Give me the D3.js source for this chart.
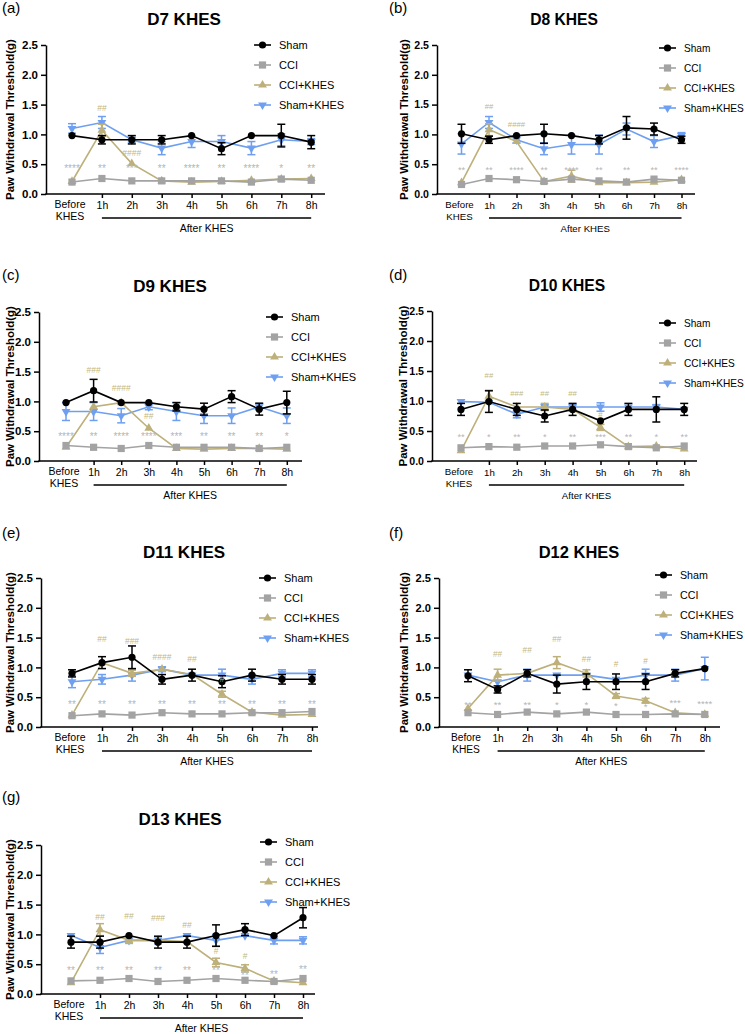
<!DOCTYPE html>
<meta charset="utf-8">
<html>
<head>
<script src="https://cdn.jsdelivr.net/npm/d3@7"></script>
<style>
  body { margin: 0; background: #fff; }
  svg { font-family: "Liberation Sans", Arial, sans-serif; }
  .ytick text { font-weight: bold; }
</style>
</head>
<body>
<div id="chart"></div>
<script>
// categories on the x axis
var categories = ["Before KHES", "1h", "2h", "3h", "4h", "5h", "6h", "7h", "8h"];
var yTicks = [0, 0.5, 1.0, 1.5, 2.0, 2.5];
var groups = ["Sham", "CCI", "CCI+KHES", "Sham+KHES"];

// D7
var d7_sham = [0.98, 0.91, 0.91, 0.91, 0.98, 0.76, 0.98, 0.98, 0.87];
var d7_shamE = [0.02, 0.07, 0.07, 0.07, 0.02, 0.10, 0.02, 0.19, 0.11];
var d7_cci = [0.20, 0.26, 0.22, 0.22, 0.22, 0.22, 0.20, 0.25, 0.23];
var d7_ck = [0.21, 1.07, 0.51, 0.22, 0.20, 0.21, 0.23, 0.25, 0.26];
var d7_ckE = [0.02, 0.10, 0.03, 0.02, 0.02, 0.02, 0.02, 0.02, 0.02];
var d7_sk = [1.10, 1.20, 0.91, 0.77, 0.88, 0.88, 0.77, 0.91, 0.88];
var d7_skE = [0.08, 0.10, 0.04, 0.11, 0.10, 0.10, 0.11, 0.10, 0.05];
var d7_stars = ["****", "**", "***", "**", "****", "**", "****", "*", "**"];
var d7_starY = [0.43, 0.43, 0.43, 0.43, 0.43, 0.43, 0.43, 0.43, 0.43];
var d7_hash = ["", "##", "####", "", "", "", "", "", ""];
var d7_hashY = [0, 1.45, 0.69, 0, 0, 0, 0, 0, 0];

// D8
var d8_sham = [1.01, 0.91, 0.98, 1.01, 0.98, 0.91, 1.11, 1.09, 0.91];
var d8_shamE = [0.16, 0.06, 0.02, 0.16, 0.02, 0.07, 0.19, 0.10, 0.06];
var d8_cci = [0.16, 0.26, 0.24, 0.21, 0.25, 0.22, 0.20, 0.25, 0.23];
var d8_ck = [0.19, 1.08, 0.88, 0.21, 0.30, 0.19, 0.19, 0.20, 0.24];
var d8_ckE = [0.02, 0.10, 0.03, 0.02, 0.10, 0.02, 0.02, 0.02, 0.02];
var d8_sk = [0.84, 1.20, 0.91, 0.76, 0.83, 0.83, 1.09, 0.88, 0.98];
var d8_skE = [0.17, 0.10, 0.05, 0.10, 0.16, 0.16, 0.10, 0.10, 0.05];
var d8_stars = ["**", "**", "****", "**", "****", "**", "**", "**", "****"];
var d8_starY = [0.42, 0.42, 0.42, 0.42, 0.42, 0.42, 0.42, 0.42, 0.42];
var d8_hash = ["", "##", "####", "", "", "", "", "", ""];
var d8_hashY = [0, 1.48, 1.17, 0, 0, 0, 0, 0, 0];

// D9
var d9_sham = [0.98, 1.18, 0.98, 0.98, 0.91, 0.87, 1.08, 0.87, 0.98];
var d9_shamE = [0.02, 0.19, 0.02, 0.02, 0.07, 0.10, 0.10, 0.10, 0.19];
var d9_cci = [0.26, 0.23, 0.21, 0.26, 0.23, 0.23, 0.23, 0.21, 0.23];
var d9_ck = [0.23, 0.91, 0.98, 0.55, 0.21, 0.20, 0.21, 0.21, 0.20];
var d9_ckE = [0.02, 0.03, 0.03, 0.03, 0.02, 0.02, 0.02, 0.02, 0.02];
var d9_sk = [0.83, 0.83, 0.76, 0.91, 0.83, 0.76, 0.76, 0.91, 0.76];
var d9_skE = [0.15, 0.15, 0.12, 0.05, 0.15, 0.13, 0.13, 0.05, 0.13];
var d9_stars = ["****", "**", "****", "****", "***", "**", "**", "**", "*"];
var d9_starY = [0.42, 0.42, 0.42, 0.42, 0.42, 0.42, 0.42, 0.42, 0.42];
var d9_hash = ["", "###", "####", "##", "", "", "", "", ""];
var d9_hashY = [0, 1.53, 1.23, 0.75, 0, 0, 0, 0, 0];

// D10
var d10_sham = [0.86, 0.99, 0.86, 0.75, 0.86, 0.67, 0.86, 0.86, 0.86];
var d10_shamE = [0.10, 0.18, 0.10, 0.10, 0.10, 0.03, 0.10, 0.21, 0.10];
var d10_cci = [0.22, 0.24, 0.23, 0.25, 0.25, 0.27, 0.24, 0.22, 0.25];
var d10_ck = [0.17, 1.08, 0.90, 0.90, 0.86, 0.56, 0.24, 0.25, 0.20];
var d10_ckE = [0.02, 0.10, 0.03, 0.06, 0.03, 0.05, 0.02, 0.02, 0.02];
var d10_sk = [0.99, 0.98, 0.78, 0.90, 0.90, 0.90, 0.90, 0.90, 0.86];
var d10_skE = [0.03, 0.03, 0.06, 0.04, 0.04, 0.07, 0.03, 0.04, 0.03];
var d10_stars = ["**", "*", "**", "*", "**", "***", "**", "*", "**"];
var d10_starY = [0.42, 0.42, 0.42, 0.42, 0.42, 0.42, 0.42, 0.42, 0.42];
var d10_hash = ["", "##", "###", "##", "##", "#", "", "", ""];
var d10_hashY = [0, 1.43, 1.14, 1.14, 1.14, 0.78, 0, 0, 0];

// D11
var d11_sham = [0.90, 1.08, 1.17, 0.80, 0.87, 0.76, 0.87, 0.80, 0.80];
var d11_shamE = [0.06, 0.10, 0.19, 0.08, 0.10, 0.10, 0.10, 0.08, 0.08];
var d11_cci = [0.19, 0.22, 0.20, 0.24, 0.22, 0.22, 0.24, 0.24, 0.26];
var d11_ck = [0.20, 1.08, 0.90, 0.97, 0.88, 0.55, 0.25, 0.20, 0.21];
var d11_ckE = [0.02, 0.03, 0.05, 0.03, 0.03, 0.05, 0.02, 0.02, 0.02];
var d11_sk = [0.76, 0.80, 0.87, 0.97, 0.87, 0.87, 0.80, 0.90, 0.90];
var d11_skE = [0.10, 0.08, 0.10, 0.04, 0.03, 0.10, 0.08, 0.06, 0.06];
var d11_stars = ["**", "**", "**", "**", "**", "**", "**", "**", "**"];
var d11_starY = [0.39, 0.39, 0.39, 0.39, 0.39, 0.39, 0.39, 0.39, 0.39];
var d11_hash = ["", "##", "###", "####", "##", "#", "", "", ""];
var d11_hashY = [0, 1.47, 1.44, 1.18, 1.14, 0.80, 0, 0, 0];

// D12
var d12_sham = [0.86, 0.63, 0.90, 0.72, 0.76, 0.76, 0.76, 0.90, 0.98];
var d12_shamE = [0.10, 0.06, 0.06, 0.15, 0.13, 0.13, 0.13, 0.06, 0.03];
var d12_cci = [0.24, 0.21, 0.25, 0.22, 0.25, 0.21, 0.21, 0.22, 0.21];
var d12_ck = [0.31, 0.87, 0.90, 1.08, 0.90, 0.52, 0.44, 0.24, 0.21];
var d12_ckE = [0.02, 0.10, 0.03, 0.10, 0.06, 0.04, 0.04, 0.02, 0.02];
var d12_sk = [0.87, 0.76, 0.87, 0.87, 0.87, 0.80, 0.87, 0.87, 0.98];
var d12_skE = [0.03, 0.03, 0.10, 0.03, 0.03, 0.03, 0.10, 0.10, 0.19];
var d12_stars = ["**", "**", "**", "*", "*", "*", "*", "***", "****"];
var d12_starY = [0.39, 0.39, 0.39, 0.39, 0.39, 0.37, 0.35, 0.42, 0.41];
var d12_hash = ["", "##", "##", "##", "##", "#", "#", "", ""];
var d12_hashY = [0, 1.22, 1.29, 1.47, 1.14, 1.05, 1.10, 0, 0];

// D13
var d13_sham = [0.87, 0.87, 0.98, 0.87, 0.87, 0.98, 1.08, 0.98, 1.28];
var d13_shamE = [0.10, 0.10, 0.02, 0.10, 0.10, 0.18, 0.10, 0.02, 0.17];
var d13_cci = [0.22, 0.23, 0.26, 0.21, 0.23, 0.26, 0.23, 0.21, 0.26];
var d13_ck = [0.19, 1.08, 0.90, 0.90, 0.88, 0.53, 0.43, 0.22, 0.19];
var d13_ckE = [0.02, 0.10, 0.05, 0.03, 0.03, 0.07, 0.06, 0.02, 0.02];
var d13_sk = [0.98, 0.78, 0.90, 0.90, 0.98, 0.90, 0.98, 0.90, 0.90];
var d13_skE = [0.03, 0.10, 0.05, 0.06, 0.03, 0.10, 0.03, 0.06, 0.06];
var d13_stars = ["**", "**", "**", "**", "**", "**", "**", "**", "**"];
var d13_starY = [0.40, 0.40, 0.40, 0.40, 0.40, 0.41, 0.32, 0.33, 0.42];
var d13_hash = ["", "##", "##", "###", "##", "#", "#", "", ""];
var d13_hashY = [0, 1.30, 1.31, 1.28, 1.16, 0.72, 0.64, 0, 0];

var cciE = [0.02, 0.02, 0.02, 0.02, 0.02, 0.02, 0.02, 0.02, 0.02];

var colors = {"Sham": "#000000", "CCI": "#a3a3a3", "CCI+KHES": "#bdb07a", "Sham+KHES": "#6e9ff0"};
var starColor = "#b5b5b5", hashColor = "#c4b780";

// panel layout (fs = horizontal squeeze of the text in that panel)
var panels = [
  {lab: "(a)", title: "D7 KHES", fs: 1, axX: 46, yTop: 45, yBot: 194, x0: 72, dx: 29.9, axEnd: 325, titleX: 184, labX: 2, labY: 13, legX: 254, legY: 45, yTitX: 14,
   d: [d7_sham, d7_shamE, d7_cci, cciE, d7_ck, d7_ckE, d7_sk, d7_skE], stars: d7_stars, starY: d7_starY, hash: d7_hash, hashY: d7_hashY},
  {lab: "(b)", title: "D8 KHES", fs: 0.92, axX: 437, yTop: 45, yBot: 194, x0: 461.5, dx: 27.5, axEnd: 695, titleX: 564, labX: 389, labY: 13, legX: 659, legY: 48, yTitX: 408,
   d: [d8_sham, d8_shamE, d8_cci, cciE, d8_ck, d8_ckE, d8_sk, d8_skE], stars: d8_stars, starY: d8_starY, hash: d8_hash, hashY: d8_hashY},
  {lab: "(c)", title: "D9 KHES", fs: 1, axX: 39, yTop: 312, yBot: 461, x0: 66, dx: 27.6, axEnd: 302, titleX: 170, labX: 2, labY: 280, legX: 266, legY: 317, yTitX: 14,
   d: [d9_sham, d9_shamE, d9_cci, cciE, d9_ck, d9_ckE, d9_sk, d9_skE], stars: d9_stars, starY: d9_starY, hash: d9_hash, hashY: d9_hashY},
  {lab: "(d)", title: "D10 KHES", fs: 0.92, axX: 432, yTop: 311, yBot: 461, x0: 461, dx: 27.9, axEnd: 697, titleX: 567, labX: 389, labY: 280, legX: 659, legY: 323, yTitX: 407,
   d: [d10_sham, d10_shamE, d10_cci, cciE, d10_ck, d10_ckE, d10_sk, d10_skE], stars: d10_stars, starY: d10_starY, hash: d10_hash, hashY: d10_hashY},
  {lab: "(e)", title: "D11 KHES", fs: 1, axX: 41, yTop: 578, yBot: 727, x0: 72, dx: 30, axEnd: 318, titleX: 184, labX: 2, labY: 538, legX: 259, legY: 578, yTitX: 14,
   d: [d11_sham, d11_shamE, d11_cci, cciE, d11_ck, d11_ckE, d11_sk, d11_skE], stars: d11_stars, starY: d11_starY, hash: d11_hash, hashY: d11_hashY},
  {lab: "(f)", title: "D12 KHES", fs: 0.97, axX: 439, yTop: 578, yBot: 727, x0: 468, dx: 29.6, axEnd: 720, titleX: 579, labX: 389, labY: 538, legX: 655, legY: 575, yTitX: 408,
   d: [d12_sham, d12_shamE, d12_cci, cciE, d12_ck, d12_ckE, d12_sk, d12_skE], stars: d12_stars, starY: d12_starY, hash: d12_hash, hashY: d12_hashY},
  {lab: "(g)", title: "D13 KHES", fs: 1, axX: 41, yTop: 845, yBot: 994, x0: 71, dx: 29, axEnd: 315, titleX: 180, labX: 2, labY: 802, legX: 260, legY: 842, yTitX: 14,
   d: [d13_sham, d13_shamE, d13_cci, cciE, d13_ck, d13_ckE, d13_sk, d13_skE], stars: d13_stars, starY: d13_starY, hash: d13_hash, hashY: d13_hashY}
];

var svg = d3.select("#chart").append("svg")
    .attr("width", 745)
    .attr("height", 1034);

function marker(g, name, cx, cy) {
    var c = colors[name];
    if (name == "Sham") {
        g.append("circle").attr("cx", cx).attr("cy", cy).attr("r", 3.6).attr("fill", c);
    } else if (name == "CCI") {
        g.append("rect").attr("x", cx - 3.6).attr("y", cy - 3.6).attr("width", 7.2).attr("height", 7.2).attr("fill", c);
    } else if (name == "CCI+KHES") {
        g.append("path").attr("d", d3.symbol(d3.symbolTriangle, 34)()).attr("transform", "translate(" + cx + "," + cy + ")").attr("fill", c);
    } else {
        g.append("path").attr("d", d3.symbol(d3.symbolTriangle, 34)()).attr("transform", "translate(" + cx + "," + cy + ") rotate(180)").attr("fill", c);
    }
}

panels.forEach(function(p) {
    var g = svg.append("g");
    var f = p.fs;
    var x = d3.scaleLinear().domain([0, 8]).range([p.x0, p.x0 + 8 * p.dx]);
    var y = d3.scaleLinear().domain([0, 2.5]).range([p.yBot, p.yTop]);

    // panel label and title
    g.append("text").attr("x", p.labX).attr("y", p.labY).attr("font-size", "15px").text(p.lab);
    g.append("text").attr("x", p.titleX).attr("y", p.yTop - 20).attr("text-anchor", "middle")
        .attr("font-size", (17 * f) + "px").attr("font-weight", "bold").text(p.title);

    // y axis
    var ya = g.append("g").attr("class", "ytick").attr("transform", "translate(" + p.axX + ",0)")
        .call(d3.axisLeft(y).tickValues(yTicks).tickFormat(d3.format(".1f")).tickSize(5).tickSizeOuter(0).tickPadding(3));
    ya.selectAll("line, path").attr("stroke", "#000").attr("stroke-width", 1.5);
    ya.selectAll("text").attr("fill", "#000").attr("font-size", (11.5 * f) + "px");

    g.append("text")
        .attr("transform", "translate(" + p.yTitX + "," + ((p.yTop + p.yBot) / 2) + ") rotate(-90)")
        .attr("text-anchor", "middle").attr("font-size", "11.5px").attr("font-weight", "bold")
        .text("Paw Withdrawal Threshold(g)");

    // x axis
    var xa = g.append("g").attr("transform", "translate(0," + p.yBot + ")")
        .call(d3.axisBottom(x).tickValues(d3.range(9)).tickSize(4).tickPadding(4)
            .tickFormat(function(d) { return d == 0 ? "" : categories[d]; }));
    xa.select(".domain").remove();
    xa.selectAll("line").attr("stroke", "#000").attr("stroke-width", 1.5)
        .filter(function(d) { return d == 0; }).remove();
    xa.selectAll("text").attr("fill", "#000").attr("font-size", (10.5 * f) + "px");
    g.append("line").attr("x1", p.axX - 0.75).attr("x2", p.axEnd).attr("y1", p.yBot).attr("y2", p.yBot)
        .attr("stroke", "#000").attr("stroke-width", 1.5);
    var bk = g.append("text").attr("x", x(0) - 2).attr("y", p.yBot + 14).attr("text-anchor", "middle").attr("font-size", (10.5 * f) + "px");
    bk.append("tspan").attr("x", x(0) - 2).text("Before");
    bk.append("tspan").attr("x", x(0) - 2).attr("dy", 11.5).text("KHES");

    // After KHES bracket
    g.append("line").attr("x1", x(1)).attr("x2", x(8)).attr("y1", p.yBot + 24).attr("y2", p.yBot + 24)
        .attr("stroke", "#000").attr("stroke-width", 1.3);
    g.append("text").attr("x", (x(1) + x(8)) / 2).attr("y", p.yBot + 38).attr("text-anchor", "middle")
        .attr("font-size", (10.5 * f) + "px").text("After KHES");

    // series, drawn back to front
    var order = [3, 2, 1, 0];
    order.forEach(function(k) {
        var name = groups[k];
        var vals = p.d[k * 2], errs = p.d[k * 2 + 1];
        var c = colors[name];
        var sg = g.append("g");
        var line = d3.line().x(function(d, i) { return x(i); }).y(function(d) { return y(d); });
        sg.append("path").datum(vals).attr("d", line).attr("fill", "none").attr("stroke", c).attr("stroke-width", 1.6);
        vals.forEach(function(v, i) {
            var e = errs[i];
            if (e > 0.03) {
                sg.append("line").attr("x1", x(i)).attr("x2", x(i)).attr("y1", y(v - e)).attr("y2", y(v + e))
                    .attr("stroke", c).attr("stroke-width", 1.5);
                [v - e, v + e].forEach(function(t) {
                    sg.append("line").attr("x1", x(i) - 4).attr("x2", x(i) + 4).attr("y1", y(t)).attr("y2", y(t))
                        .attr("stroke", c).attr("stroke-width", 1.5);
                });
            }
            marker(sg, name, x(i), y(v));
        });
    });

    // significance marks
    p.stars.forEach(function(s, i) {
        g.append("text").attr("x", x(i)).attr("y", y(p.starY[i]) + 4).attr("text-anchor", "middle")
            .attr("font-size", (10 * f) + "px").attr("fill", starColor).text(s);
    });
    p.hash.forEach(function(s, i) {
        if (s == "") return;
        g.append("text").attr("x", x(i)).attr("y", y(p.hashY[i]) + 3).attr("text-anchor", "middle")
            .attr("font-size", (8.5 * f) + "px").attr("fill", hashColor).text(s);
    });

    // legend
    groups.forEach(function(name, k) {
        var ly = p.legY + k * 20;
        g.append("line").attr("x1", p.legX).attr("x2", p.legX + 17).attr("y1", ly).attr("y2", ly)
            .attr("stroke", colors[name]).attr("stroke-width", 1.6);
        marker(g, name, p.legX + 8.5, ly);
        g.append("text").attr("x", p.legX + 25).attr("y", ly + 4).attr("font-size", (11 * f) + "px").text(name);
    });
});
</script>
</body>
</html>
